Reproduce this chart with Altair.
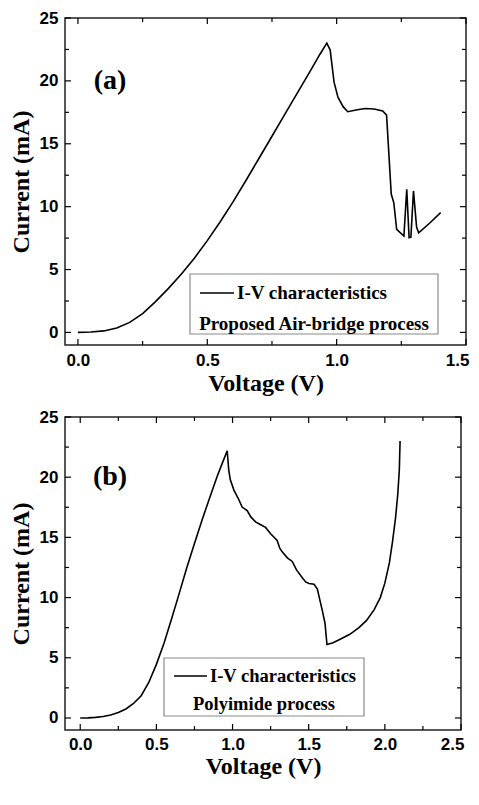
import altair as alt
import pandas as pd

# ---------------- data ----------------
a_voltage = [0, 0.05, 0.1, 0.15, 0.2, 0.25, 0.3, 0.35, 0.4, 0.45, 0.5, 0.55, 0.6,
             0.65, 0.7, 0.75, 0.8, 0.85, 0.9, 0.935, 0.962, 0.975, 0.99, 1.005,
             1.025, 1.043, 1.08, 1.11, 1.145, 1.178, 1.193, 1.211, 1.221, 1.232,
             1.26, 1.271, 1.28, 1.287, 1.297, 1.309, 1.317, 1.36, 1.402]
a_current = [0, 0.03, 0.12, 0.35, 0.8, 1.5, 2.45, 3.5, 4.65, 5.9, 7.3, 8.8, 10.4,
             12.1, 13.85, 15.6, 17.35, 19.1, 20.85, 22.1, 23.0, 22.45, 19.9, 18.7,
             17.95, 17.55, 17.7, 17.8, 17.76, 17.6, 17.28, 11.0, 10.3, 8.2,
             7.66, 11.38, 7.53, 7.58, 11.25, 8.38, 7.92, 8.7, 9.52]

b_voltage = [0, 0.05, 0.1, 0.15, 0.2, 0.25, 0.3, 0.35, 0.4, 0.45, 0.5, 0.55,
             0.6, 0.65, 0.7, 0.75, 0.8, 0.85, 0.9, 0.94, 0.965, 0.975, 0.985,
             1.009, 1.037, 1.063, 1.096, 1.12, 1.151, 1.185, 1.217, 1.25, 1.293,
             1.31, 1.326, 1.36, 1.392, 1.42, 1.458, 1.48, 1.502, 1.535, 1.557,
             1.575, 1.59, 1.607, 1.62, 1.66, 1.7, 1.77, 1.83, 1.88, 1.93, 1.97,
             2.0, 2.03, 2.05, 2.07, 2.085, 2.095, 2.1]
b_current = [0, 0.01, 0.05, 0.12, 0.25, 0.45, 0.75, 1.2, 1.85, 2.95, 4.45, 6.2,
             8.25, 10.35, 12.5, 14.5, 16.45, 18.3, 20.1, 21.4, 22.2, 20.6, 19.8,
             18.93, 18.25, 17.52, 17.23, 16.7, 16.29, 16.05, 15.83, 15.3, 14.75,
             14.1, 13.8, 13.3, 13.0, 12.3, 11.65, 11.3, 11.17, 11.1, 10.7,
             9.7, 8.9, 7.87, 6.1, 6.25, 6.5, 6.95, 7.5, 8.1, 9.0, 10.0,
             11.2, 12.9, 14.6, 16.6, 18.6, 20.6, 23.0]

a_x_major = [0.0, 0.5, 1.0, 1.5]
a_x_minor = [0.25, 0.75, 1.25]
b_x_major = [0.0, 0.5, 1.0, 1.5, 2.0, 2.5]
b_x_minor = [0.25, 0.75, 1.25, 1.75, 2.25]
y_major = [0, 5, 10, 15, 20, 25]
y_minor = [2.5, 7.5, 12.5, 17.5, 22.5]
y_domain = [-1, 25]

a_tag = "(a)"
b_tag = "(b)"
legend_entry = "I-V characteristics"
a_note = "Proposed Air-bridge process"
b_note = "Polyimide process"

SANS = "Liberation Sans"
SERIF = "Liberation Serif"


def panel(volt, curr, xdom, xmaj, xmin, W, H, tag, tag_xy, note, box, note_size,
          label_pad, title_pad):
    x_enc = alt.X("V:Q",
                  scale=alt.Scale(domain=xdom, nice=False, zero=False),
                  axis=alt.Axis(values=xmaj, format=".1f", title="Voltage (V)",
                                ticks=False, domain=False, grid=False,
                                labelFont=SANS, labelFontWeight="bold",
                                labelFontSize=17, labelColor="black",
                                labelPadding=label_pad, labelFlush=True,
                                labelFlushOffset=3,
                                titleFont=SERIF, titleFontWeight="bold",
                                titleFontSize=24, titleColor="black",
                                titlePadding=title_pad))
    y_enc = alt.Y("I:Q",
                  scale=alt.Scale(domain=y_domain, nice=False, zero=False),
                  axis=alt.Axis(values=y_major, format="d", title="Current (mA)",
                                ticks=False, domain=False, grid=False,
                                labelFont=SANS, labelFontWeight="bold",
                                labelFontSize=17, labelColor="black",
                                labelPadding=7, labelFlush=False,
                                titleFont=SERIF, titleFontWeight="bold",
                                titleFontSize=24, titleColor="black",
                                titlePadding=6))

    df = pd.DataFrame({"V": volt, "I": curr})
    line = alt.Chart(df).mark_line(color="black", strokeWidth=1.6).encode(
        x=x_enc, y=y_enc)

    layers = [line]
    ky = (y_domain[1] - y_domain[0]) / H     # data units per pixel (y)
    kx = (xdom[1] - xdom[0]) / W             # data units per pixel (x)
    for vals, L in ((xmaj, 6), (xmin, 4)):
        d = pd.DataFrame({"V": vals})
        layers.append(alt.Chart(d).mark_rule(color="black", strokeWidth=1.2).encode(
            x=x_enc, y=alt.datum(y_domain[0]), y2=alt.datum(y_domain[0] + L * ky)))
        layers.append(alt.Chart(d).mark_rule(color="black", strokeWidth=1.2).encode(
            x=x_enc, y=alt.datum(y_domain[1]), y2=alt.datum(y_domain[1] - L * ky)))
    for vals, L in ((y_major, 6), (y_minor, 4)):
        d = pd.DataFrame({"I": vals})
        layers.append(alt.Chart(d).mark_rule(color="black", strokeWidth=1.2).encode(
            y=y_enc, x=alt.datum(xdom[0]), x2=alt.datum(xdom[0] + L * kx)))
        layers.append(alt.Chart(d).mark_rule(color="black", strokeWidth=1.2).encode(
            y=y_enc, x=alt.datum(xdom[1]), x2=alt.datum(xdom[1] - L * kx)))

    bx0, by0, bx1, by1, lx0, lx1, ly, t2x, t2y = box
    one = pd.DataFrame({"k": [0]})
    layers.append(alt.Chart(one).mark_rect(fill="white", stroke="#8a8a8a",
                                           strokeWidth=1.2).encode(
        x=alt.value(bx0), x2=alt.value(bx1), y=alt.value(by0), y2=alt.value(by1)))
    layers.append(alt.Chart(one).mark_rule(color="black", strokeWidth=1.6).encode(
        x=alt.value(lx0), x2=alt.value(lx1), y=alt.value(ly)))
    layers.append(alt.Chart(one).mark_text(
        text=legend_entry, font=SERIF, fontWeight="bold", fontSize=note_size,
        align="left", baseline="middle", color="black").encode(
        x=alt.value(lx1 + 3), y=alt.value(ly)))
    layers.append(alt.Chart(one).mark_text(
        text=note, font=SERIF, fontWeight="bold", fontSize=note_size,
        align="center", baseline="middle", color="black").encode(
        x=alt.value(t2x), y=alt.value(t2y)))
    layers.append(alt.Chart(one).mark_text(
        text=tag, font=SERIF, fontWeight="bold", fontSize=28,
        align="center", baseline="middle", color="black").encode(
        x=alt.value(tag_xy[0]), y=alt.value(tag_xy[1])))

    return alt.layer(*layers).properties(width=W, height=H)


top = panel(a_voltage, a_current, [-0.05, 1.5], a_x_major, a_x_minor, 401, 327,
            a_tag, (45, 63), a_note,
            (125, 256, 373, 316, 135, 169, 275, 249, 306), 19, 7, 3)
bottom = panel(b_voltage, b_current, [-0.1, 2.5], b_x_major, b_x_minor, 396, 313,
               b_tag, (45, 60), b_note,
               (99, 241, 299, 299, 109, 142, 259, 199, 287), 18.5, 6, 2)

chart = alt.vconcat(top, bottom, spacing=11).properties(
    padding={"left": 0, "top": 0, "right": 0, "bottom": 0}
).configure_view(stroke="#222222", strokeWidth=1.5, fill="white")

chart.save("out.html", embed_options={"renderer": "svg", "actions": False})
